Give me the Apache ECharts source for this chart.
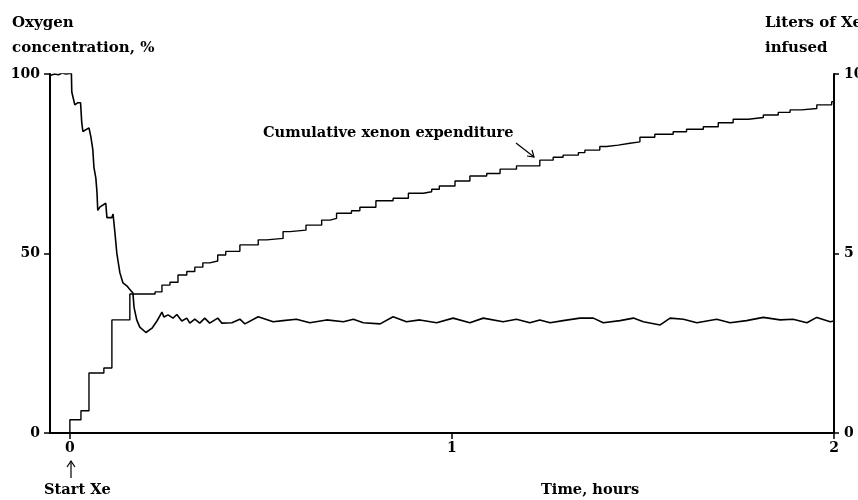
<!DOCTYPE html>
<html>
<head>
<meta charset="utf-8">
<script src="https://cdn.jsdelivr.net/npm/echarts@6/dist/echarts.min.js"></script>
<style>
  html, body { margin: 0; padding: 0; background: #fff; }
  #chart { width: 858px; height: 500px; }
</style>
</head>
<body>
<div id="chart"></div>
<script>
// Oxygen concentration, % (left axis) vs time, hours
const o2Time = [
  -0.052, -0.04, -0.03, -0.02, -0.01, 0.004,
  0.005, 0.013, 0.021, 0.028, 0.031, 0.034, 0.050, 0.055, 0.060, 0.063,
  0.068, 0.071, 0.073, 0.079, 0.094, 0.097, 0.110, 0.113, 0.118, 0.123,
  0.131, 0.139, 0.149, 0.157, 0.165, 0.168, 0.175, 0.183, 0.199, 0.215,
  0.228, 0.241, 0.246, 0.257, 0.270, 0.280, 0.293, 0.306, 0.314, 0.327,
  0.340, 0.353, 0.366, 0.387, 0.398, 0.424,
  0.445, 0.458, 0.493, 0.532, 0.558, 0.593, 0.628, 0.672, 0.716, 0.742,
  0.768, 0.812, 0.846, 0.881, 0.916, 0.960, 1.003, 1.047, 1.082, 1.134,
  1.169, 1.204, 1.230, 1.257, 1.291, 1.335, 1.370, 1.396, 1.440, 1.475,
  1.501, 1.545, 1.571, 1.606, 1.641, 1.693, 1.728, 1.771, 1.815, 1.859,
  1.893, 1.929, 1.955, 1.990, 2.0
];
const o2Values = [
  99.6, 100, 99.8, 100.3, 100, 100.2,
  95, 91.4, 92, 92, 86.6, 84, 85, 82.5, 79, 74,
  71, 67, 62, 63, 64, 60, 60, 61, 55.7, 50,
  44.6, 41.8, 41, 40, 39, 35, 31.5, 29.5, 28, 29.2,
  31.2, 33.7, 32.3, 32.9, 32, 33, 31.2, 32, 30.6, 31.7,
  30.6, 32, 30.6, 32, 30.6, 30.7,
  31.7, 30.4, 32.4, 31, 31.3, 31.7, 30.7, 31.5, 31, 31.7,
  30.7, 30.4, 32.4, 31, 31.5, 30.7, 32, 30.7, 32, 31,
  31.7, 30.7, 31.5, 30.7, 31.3, 32, 32, 30.7, 31.3, 32,
  31, 30.1, 32, 31.7, 30.7, 31.7, 30.7, 31.3, 32.2, 31.5,
  31.7, 30.7, 32.2, 31, 31.2
];

// Liters of Xe infused (right axis), step points
const xeTime = [
  0, 0, 0.029, 0.050, 0.089, 0.110, 0.157, 0.223, 0.241, 0.262,
  0.283, 0.306, 0.327, 0.348, 0.366, 0.387, 0.408, 0.445, 0.493, 0.515,
  0.558, 0.576, 0.618, 0.659, 0.681, 0.698, 0.737, 0.759, 0.801, 0.846,
  0.886, 0.925, 0.947, 0.967, 1.008, 1.047, 1.091, 1.126, 1.169, 1.230,
  1.265, 1.291, 1.331, 1.348, 1.387, 1.405, 1.435, 1.466, 1.492, 1.531,
  1.579, 1.614, 1.658, 1.697, 1.736, 1.776, 1.815, 1.854, 1.885, 1.915,
  1.955, 1.994, 2.0
];
const xeValues = [
  0, 0.37, 0.62, 1.67, 1.81, 3.15, 3.87, 3.93, 4.12, 4.2,
  4.4, 4.5, 4.62, 4.74, 4.79, 4.96, 5.06, 5.24, 5.38, 5.42,
  5.61, 5.65, 5.79, 5.93, 5.98, 6.12, 6.19, 6.29, 6.47, 6.54,
  6.68, 6.72, 6.79, 6.88, 7.02, 7.16, 7.23, 7.35, 7.44, 7.6,
  7.68, 7.74, 7.81, 7.88, 7.98, 8.02, 8.07, 8.11, 8.24, 8.32,
  8.39, 8.46, 8.53, 8.64, 8.74, 8.79, 8.86, 8.93, 9.0, 9.04,
  9.14, 9.23, 9.3
];

const timeTicks = [0, 1, 2];

const FONT = 'DejaVu Serif';
const chart = echarts.init(document.getElementById('chart'));

const tickLabel = { color: '#000', fontFamily: FONT, fontWeight: 'bold', fontSize: 14 };
const blackTick = { color: '#000', width: 1.5 };

chart.setOption({
  backgroundColor: '#fff',
  animation: false,
  grid: { left: 50, right: 24, top: 74, bottom: 67, outerBoundsMode: 'none', containLabel: false },
  xAxis: {
    type: 'value',
    min: -0.052,
    max: 2,
    axisLine: { show: true, onZero: false, lineStyle: { color: '#000', width: 2 } },
    axisTick: { show: true, customValues: timeTicks, length: 6, lineStyle: blackTick },
    axisLabel: Object.assign({ customValues: timeTicks, margin: 8 }, tickLabel),
    splitLine: { show: false }
  },
  yAxis: [
    {
      type: 'value',
      min: 0, max: 100, interval: 50,
      position: 'left',
      axisLine: { show: true, onZero: false, lineStyle: { color: '#000', width: 2 } },
      axisTick: { show: true, length: 6, lineStyle: blackTick },
      axisLabel: Object.assign({ margin: 10 }, tickLabel),
      splitLine: { show: false }
    },
    {
      type: 'value',
      min: 0, max: 10, interval: 5,
      position: 'right',
      axisLine: { show: true, onZero: false, lineStyle: { color: '#000', width: 2 } },
      axisTick: { show: true, length: 5, lineStyle: blackTick },
      axisLabel: Object.assign({ margin: 10 }, tickLabel),
      splitLine: { show: false }
    }
  ],
  series: [
    {
      name: 'Oxygen',
      type: 'line',
      yAxisIndex: 0,
      data: o2Time.map((t, i) => [t, o2Values[i]]),
      showSymbol: false,
      lineStyle: { color: '#000', width: 1.6 }
    },
    {
      name: 'Xenon',
      type: 'line',
      yAxisIndex: 1,
      step: 'end',
      data: xeTime.map((t, i) => [t, xeValues[i]]),
      showSymbol: false,
      lineStyle: { color: '#000', width: 1.4 }
    }
  ],
  graphic: [
    {
      type: 'text', left: 12, top: 11,
      style: { text: 'Oxygen\nconcentration, %', font: 'bold 15px "' + FONT + '"', fill: '#000', lineHeight: 25 }
    },
    {
      type: 'text', left: 765, top: 11,
      style: { text: 'Liters of Xe\ninfused', font: 'bold 15px "' + FONT + '"', fill: '#000', lineHeight: 25 }
    },
    {
      type: 'text', left: 263, top: 126,
      style: { text: 'Cumulative xenon expenditure', font: 'bold 14.6px "' + FONT + '"', fill: '#000' }
    },
    {
      type: 'line', shape: { x1: 516, y1: 143, x2: 534, y2: 157 },
      style: { stroke: '#000', lineWidth: 1.2 }
    },
    {
      type: 'polyline', shape: { points: [[527, 156], [534, 157], [532, 150]] },
      style: { stroke: '#000', lineWidth: 1.2, fill: null }
    },
    {
      type: 'line', shape: { x1: 71, y1: 461, x2: 71, y2: 478 },
      style: { stroke: '#000', lineWidth: 1.2 }
    },
    {
      type: 'polyline', shape: { points: [[67, 467], [71, 461], [75, 467]] },
      style: { stroke: '#000', lineWidth: 1.2, fill: null }
    },
    {
      type: 'text', left: 44, top: 483,
      style: { text: 'Start Xe', font: 'bold 14.6px "' + FONT + '"', fill: '#000' }
    },
    {
      type: 'text', left: 541, top: 483,
      style: { text: 'Time, hours', font: 'bold 14.6px "' + FONT + '"', fill: '#000' }
    }
  ]
});
</script>
</body>
</html>
